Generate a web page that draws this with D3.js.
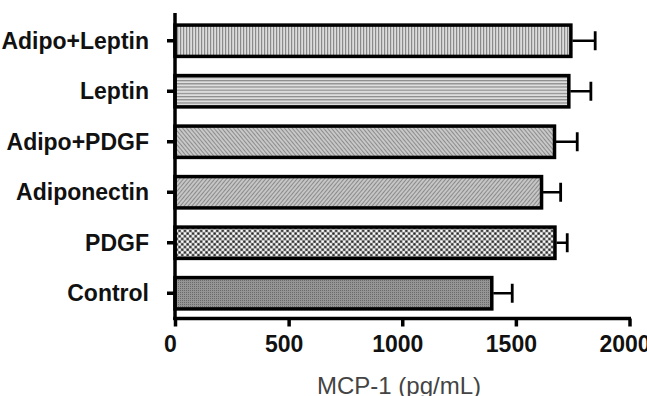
<!DOCTYPE html>
<html><head><meta charset="utf-8">
<script src="https://cdn.jsdelivr.net/npm/d3@7"></script>
<style>html,body{margin:0;padding:0;background:#fff;}svg{display:block;}</style>
</head><body>
<svg id="chart" width="647" height="396"></svg>
<script>
const categories = ["Adipo+Leptin","Leptin","Adipo+PDGF","Adiponectin","PDGF","Control"];
const values = [1742, 1733, 1670, 1613, 1672, 1394];
const errors = [107, 97, 100, 84, 54, 90];
const xTicks = [0, 500, 1000, 1500, 2000];
const xTitle = "MCP-1 (pg/mL)";
const patternIds = ["pVert","pHoriz","pDiagA","pDiagB","pCheck","pDots"];

const svg = d3.select("#chart");
const defs = svg.append("defs");

// patterns
let p = defs.append("pattern").attr("id","pVert").attr("patternUnits","userSpaceOnUse").attr("width",3).attr("height",3);
p.append("rect").attr("width",3).attr("height",3).attr("fill","#dcdcdc");
p.append("rect").attr("width",1.2).attr("height",3).attr("fill","#8a8a8a");

p = defs.append("pattern").attr("id","pHoriz").attr("patternUnits","userSpaceOnUse").attr("width",3).attr("height",3.2);
p.append("rect").attr("width",3).attr("height",3.2).attr("fill","#dedede");
p.append("rect").attr("width",3).attr("height",1.2).attr("fill","#8a8a8a");

p = defs.append("pattern").attr("id","pDiagA").attr("patternUnits","userSpaceOnUse").attr("width",3).attr("height",3).attr("patternTransform","rotate(-40)");
p.append("rect").attr("width",3).attr("height",3).attr("fill","#c8c8c8");
p.append("rect").attr("width",1).attr("height",3).attr("fill","#8c8c8c");

p = defs.append("pattern").attr("id","pDiagB").attr("patternUnits","userSpaceOnUse").attr("width",3).attr("height",3).attr("patternTransform","rotate(40)");
p.append("rect").attr("width",3).attr("height",3).attr("fill","#c6c6c6");
p.append("rect").attr("width",1).attr("height",3).attr("fill","#8a8a8a");

p = defs.append("pattern").attr("id","pCheck").attr("patternUnits","userSpaceOnUse").attr("width",5.4).attr("height",5.4);
p.append("rect").attr("width",5.4).attr("height",5.4).attr("fill","#9a9a9a");
p.append("circle").attr("cx",1.35).attr("cy",1.35).attr("r",1.3).attr("fill","#ffffff");
p.append("circle").attr("cx",4.05).attr("cy",4.05).attr("r",1.3).attr("fill","#ffffff");
p.append("circle").attr("cx",4.05).attr("cy",1.35).attr("r",1.1).attr("fill","#222");
p.append("circle").attr("cx",1.35).attr("cy",4.05).attr("r",1.1).attr("fill","#222");

p = defs.append("pattern").attr("id","pDots").attr("patternUnits","userSpaceOnUse").attr("width",2).attr("height",2);
p.append("rect").attr("width",2).attr("height",2).attr("fill","#959595");
p.append("rect").attr("width",1).attr("height",1).attr("fill","#6a6a6a");

const x = d3.scaleLinear().domain([0, 2000]).range([175, 629.5]);
const y = d3.scaleBand().domain(categories).range([15.5, 318.5]).paddingInner(0.38).paddingOuter(0.19);

// bars
const g = svg.append("g");
g.selectAll("rect.bar").data(categories).enter().append("rect")
  .attr("class","bar")
  .attr("x", x(0))
  .attr("y", d => y(d))
  .attr("width", (d,i) => x(values[i]) - x(0))
  .attr("height", y.bandwidth())
  .attr("fill", (d,i) => `url(#${patternIds[i]})`)
  .attr("stroke","#000").attr("stroke-width",3.5);

// error bars
categories.forEach((c,i) => {
  const cy = y(c) + y.bandwidth()/2;
  g.append("line").attr("x1", x(values[i]) + 1.5).attr("x2", x(values[i]+errors[i]))
    .attr("y1", cy).attr("y2", cy).attr("stroke","#000").attr("stroke-width",2.5);
  g.append("line").attr("x1", x(values[i]+errors[i])).attr("x2", x(values[i]+errors[i]))
    .attr("y1", cy-9.5).attr("y2", cy+9.5).attr("stroke","#000").attr("stroke-width",2.8);
});

// x axis
const xAxis = d3.axisBottom(x).tickValues(xTicks).tickSize(8).tickSizeOuter(0).tickFormat(d3.format("d"));
const gx = svg.append("g").attr("transform","translate(0,318.5)").call(xAxis);
gx.select(".domain").attr("stroke","#000").attr("stroke-width",3.5).attr("d", `M${x(0)-1.75},0H${x(2000)+1.5}`);
gx.selectAll(".tick line").attr("stroke","#000").attr("stroke-width",3.5);
gx.selectAll(".tick text").attr("y",null).attr("dy",null).attr("transform","translate(-5,33)")
  .attr("font-family","Liberation Sans, Arial, sans-serif").attr("font-weight","bold").attr("font-size",23).attr("fill","#111");

// y axis
const yAxis = d3.axisLeft(y).tickSize(8).tickSizeOuter(0);
const gy = svg.append("g").attr("transform",`translate(${x(0)},0)`).call(yAxis);
gy.select(".domain").attr("stroke","#000").attr("stroke-width",3.5).attr("d","M0,13V320");
gy.selectAll(".tick line").attr("stroke","#000").attr("stroke-width",3.5);
gy.selectAll(".tick text").attr("x",-26).attr("dy",null).attr("y",8)
  .attr("font-family","Liberation Sans, Arial, sans-serif").attr("font-weight","bold").attr("font-size",23).attr("fill","#111");

// x title
svg.append("text").attr("x", 399).attr("y", 394).attr("text-anchor","middle")
  .attr("font-family","Liberation Sans, Arial, sans-serif").attr("font-size",24).attr("fill","#444")
  .text(xTitle);
</script>
</body></html>
